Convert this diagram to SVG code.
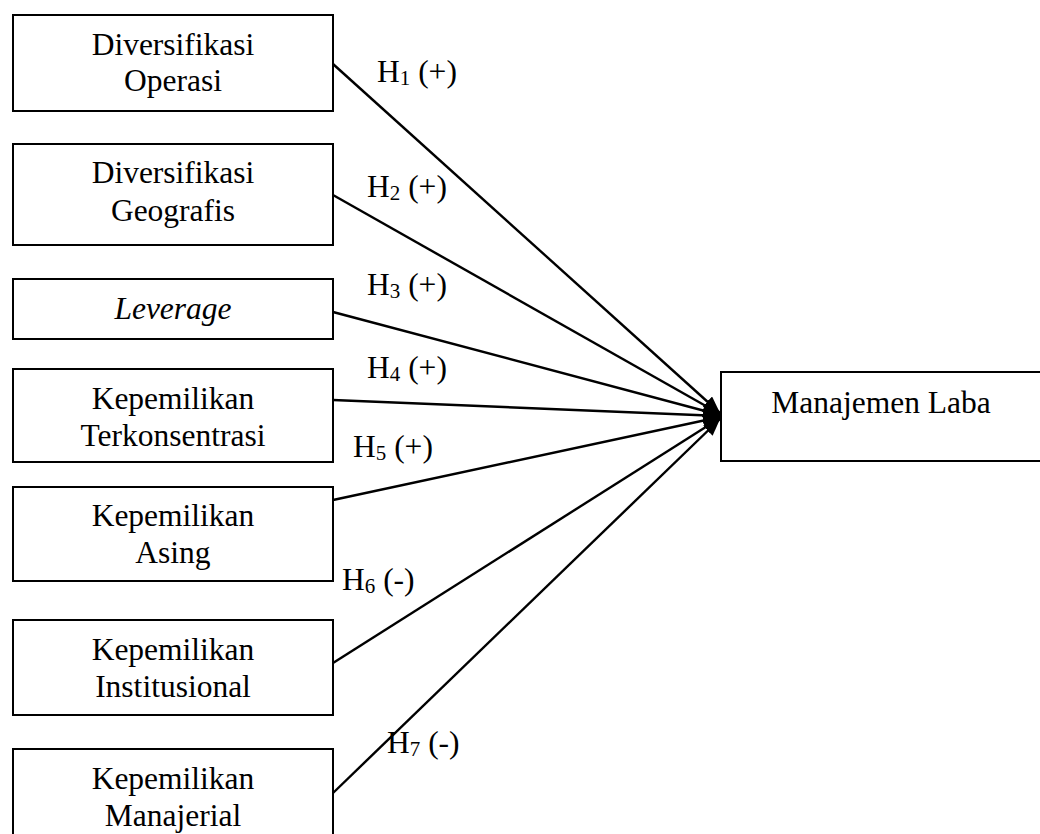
<svg xmlns="http://www.w3.org/2000/svg" width="1040" height="834" viewBox="0 0 1040 834">
<style>
.box{fill:#fff;stroke:#000;stroke-width:2}
.c{stroke:#000;stroke-width:2.4;fill:none;marker-end:url(#ah)}
</style>
<defs>
<marker id="ah" markerUnits="userSpaceOnUse" markerWidth="18" markerHeight="14" refX="17" refY="7" orient="auto">
<path d="M0,0 L17,7 L0,14 Z" fill="#000"/>
</marker>
</defs>
<rect width="1040" height="834" fill="#fff"/>
<g id="n1"><rect class="box" x="13" y="15" width="320" height="96"/><text x="173" y="55" font-family="Liberation Serif" font-size="31.5" text-anchor="middle">Diversifikasi</text><text x="173" y="91" font-family="Liberation Serif" font-size="31.5" text-anchor="middle">Operasi</text></g>
<g id="n2"><rect class="box" x="13" y="144" width="320" height="101"/><text x="173" y="183" font-family="Liberation Serif" font-size="31.5" text-anchor="middle">Diversifikasi</text><text x="173" y="221" font-family="Liberation Serif" font-size="31.5" text-anchor="middle">Geografis</text></g>
<g id="n3"><rect class="box" x="13" y="279" width="320" height="60"/><text x="173" y="319" font-family="Liberation Serif" font-size="31.5" text-anchor="middle" font-style="italic">Leverage</text></g>
<g id="n4"><rect class="box" x="13" y="369" width="320" height="93"/><text x="173" y="409" font-family="Liberation Serif" font-size="31.5" text-anchor="middle">Kepemilikan</text><text x="173" y="446" font-family="Liberation Serif" font-size="31.5" text-anchor="middle">Terkonsentrasi</text></g>
<g id="n5"><rect class="box" x="13" y="487" width="320" height="94"/><text x="173" y="526" font-family="Liberation Serif" font-size="31.5" text-anchor="middle">Kepemilikan</text><text x="173" y="563" font-family="Liberation Serif" font-size="31.5" text-anchor="middle">Asing</text></g>
<g id="n6"><rect class="box" x="13" y="620" width="320" height="95"/><text x="173" y="660" font-family="Liberation Serif" font-size="31.5" text-anchor="middle">Kepemilikan</text><text x="173" y="697" font-family="Liberation Serif" font-size="31.5" text-anchor="middle">Institusional</text></g>
<g id="n7"><rect class="box" x="13" y="749" width="320" height="100"/><text x="173" y="789" font-family="Liberation Serif" font-size="31.5" text-anchor="middle">Kepemilikan</text><text x="173" y="826" font-family="Liberation Serif" font-size="31.5" text-anchor="middle">Manajerial</text></g>
<g id="target"><rect class="box" x="721" y="372" width="330" height="89"/><text x="881" y="413" font-family="Liberation Serif" font-size="31.5" text-anchor="middle">Manajemen Laba</text></g>
<g id="connectors">
<line class="c" x1="333" y1="64" x2="720" y2="413"/>
<line class="c" x1="333" y1="195" x2="720" y2="414"/>
<line class="c" x1="333" y1="312" x2="720" y2="415"/>
<line class="c" x1="333" y1="400" x2="720" y2="416"/>
<line class="c" x1="333" y1="500" x2="720" y2="417"/>
<line class="c" x1="333" y1="663" x2="720" y2="418"/>
<line class="c" x1="333" y1="793" x2="720" y2="419"/>
</g>
<g id="labels">
<text x="377" y="82" font-family="Liberation Serif" font-size="31.5">H<tspan font-size="21" dy="3">1</tspan><tspan dy="-3"> (+)</tspan></text>
<text x="367" y="197" font-family="Liberation Serif" font-size="31.5">H<tspan font-size="21" dy="3">2</tspan><tspan dy="-3"> (+)</tspan></text>
<text x="367" y="295" font-family="Liberation Serif" font-size="31.5">H<tspan font-size="21" dy="3">3</tspan><tspan dy="-3"> (+)</tspan></text>
<text x="367" y="378" font-family="Liberation Serif" font-size="31.5">H<tspan font-size="21" dy="3">4</tspan><tspan dy="-3"> (+)</tspan></text>
<text x="353" y="457" font-family="Liberation Serif" font-size="31.5">H<tspan font-size="21" dy="3">5</tspan><tspan dy="-3"> (+)</tspan></text>
<text x="342" y="590" font-family="Liberation Serif" font-size="31.5">H<tspan font-size="21" dy="3">6</tspan><tspan dy="-3"> (-)</tspan></text>
<text x="387" y="753" font-family="Liberation Serif" font-size="31.5">H<tspan font-size="21" dy="3">7</tspan><tspan dy="-3"> (-)</tspan></text>
</g>
</svg>
